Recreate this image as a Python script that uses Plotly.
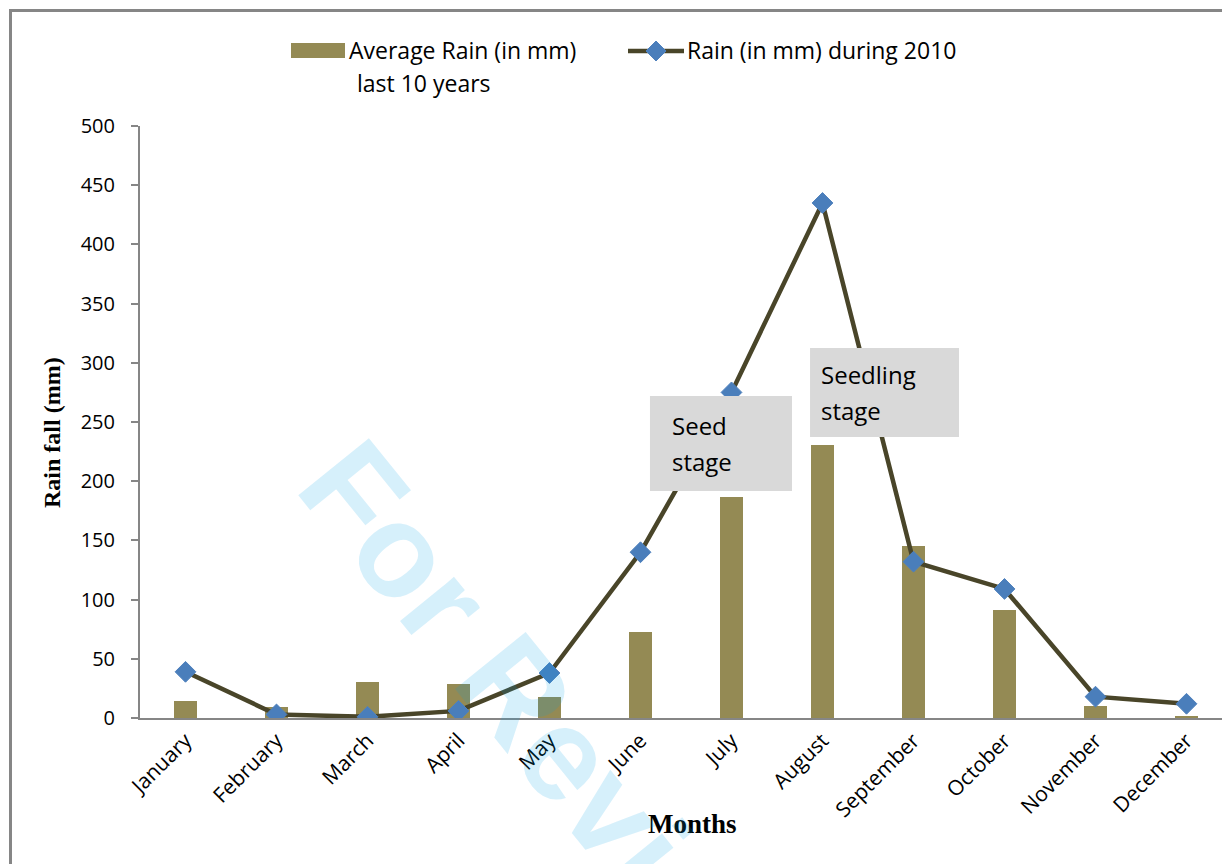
import plotly.graph_objects as go

# Monthly rainfall data (mm)
months = ["January", "February", "March", "April", "May", "June",
          "July", "August", "September", "October", "November", "December"]
avg_rain_10yr = [14, 9, 30, 29, 18, 73, 187, 231, 145, 91, 10, 2]
rain_2010 = [39, 3, 1, 6, 38, 140, 275, 435, 132, 109, 18, 12]

bar_name = "Average Rain (in mm) last 10 years"
line_name = "Rain (in mm) during 2010"

y_ticks = [0, 50, 100, 150, 200, 250, 300, 350, 400, 450, 500]

W, H = 1222, 864
L, R, T, B = 140, 0, 126, 146
PLOT_W = W - L - R
PLOT_H = H - T - B

BAR_COLOR = "#948A54"
LINE_COLOR = "#494529"
MARKER_COLOR = "#4A7EBB"
AXIS_COLOR = "#868686"
X_TICK_FONT = dict(family="Open Sans", size=21, color="#000000")
Y_TICK_FONT = dict(family="Open Sans", size=20, color="#000000")


def px_x(px):
    """Pixel column -> paper x."""
    return (px - L) / PLOT_W


def px_y(py):
    """Pixel row -> paper y."""
    return (H - B - py) / PLOT_H


fig = go.Figure()

fig.add_trace(go.Bar(
    x=months, y=avg_rain_10yr, name=bar_name, width=0.26,
    marker=dict(color=BAR_COLOR, line=dict(width=0)),
))
fig.add_trace(go.Scatter(
    x=months, y=rain_2010, name=line_name, mode="lines+markers",
    line=dict(color=LINE_COLOR, width=4.5),
    marker=dict(symbol="diamond", size=16, color=MARKER_COLOR,
                line=dict(color="#4F81BD", width=1)),
))

shapes = []
annotations = []

# Stage boxes (drawn above the series)
BOX_FONT = dict(family="Open Sans", size=24, color="#000000")
stage_boxes = [
    dict(x0=5.104, x1=6.665, y0=191.7, y1=272.0, lines=["Seed", "stage"], tx=5.32),
    dict(x0=6.863, x1=8.5, y0=237.3, y1=312.5, lines=["Seedling", "stage"], tx=6.96),
]
LINE_GAP = 36 / 1.184  # line spacing in data units
for b in stage_boxes:
    shapes.append(dict(type="rect", xref="x", yref="y", x0=b["x0"], x1=b["x1"],
                       y0=b["y0"], y1=b["y1"], fillcolor="#D9D9D9",
                       line=dict(width=0), layer="above"))
    mid = (b["y0"] + b["y1"]) / 2
    for k, txt in enumerate(b["lines"]):
        annotations.append(dict(xref="x", yref="y", x=b["tx"],
                                y=mid + LINE_GAP / 2 - k * LINE_GAP,
                                text=txt, showarrow=False, xanchor="left",
                                yanchor="middle", font=BOX_FONT))

# Outer chart border (top and left edges)
shapes.append(dict(type="path", xref="paper", yref="paper",
                   path=f"M {px_x(10.5)},{px_y(H + 5)} L {px_x(10.5)},{px_y(10.5)} L {px_x(W + 5)},{px_y(10.5)}",
                   line=dict(color=AXIS_COLOR, width=3), layer="above"))

LEGEND_FONT = dict(family="Open Sans", size=23, color="#000000")

# Legend: bar swatch
shapes.append(dict(type="rect", xref="paper", yref="paper",
                   x0=px_x(291), x1=px_x(345), y0=px_y(58), y1=px_y(43),
                   fillcolor=BAR_COLOR, line=dict(width=0)))
annotations.append(dict(xref="paper", yref="paper", x=px_x(347), y=px_y(50),
                        text="Average Rain (in mm)", showarrow=False,
                        xanchor="left", yanchor="middle", font=LEGEND_FONT))
annotations.append(dict(xref="paper", yref="paper", x=px_x(355), y=px_y(83),
                        text="last 10 years", showarrow=False,
                        xanchor="left", yanchor="middle", font=LEGEND_FONT))

# Legend: line with diamond
shapes.append(dict(type="line", xref="paper", yref="paper",
                   x0=px_x(628), x1=px_x(684), y0=px_y(51), y1=px_y(51),
                   line=dict(color=LINE_COLOR, width=4.5)))
shapes.append(dict(type="path", xref="paper", yref="paper",
                   xsizemode="pixel", ysizemode="pixel",
                   xanchor=px_x(656), yanchor=px_y(51),
                   path="M 0,-10 L 10,0 L 0,10 L -10,0 Z",
                   fillcolor=MARKER_COLOR, line=dict(color="#4F81BD", width=1)))
annotations.append(dict(xref="paper", yref="paper", x=px_x(685), y=px_y(50),
                        text=line_name, showarrow=False,
                        xanchor="left", yanchor="middle", font=LEGEND_FONT))

# Axis titles
annotations.append(dict(xref="paper", yref="paper", x=px_x(52), y=px_y(433),
                        text="<b>Rain fall (mm)</b>", showarrow=False, textangle=-90,
                        xanchor="center", yanchor="middle",
                        font=dict(family="Liberation Serif", size=24, color="#000000")))
annotations.append(dict(xref="paper", yref="paper", x=px_x(692), y=px_y(824),
                        text="<b>Months</b>", showarrow=False,
                        xanchor="center", yanchor="middle",
                        font=dict(family="Liberation Serif", size=27, color="#000000")))

# Review watermark
annotations.append(dict(xref="paper", yref="paper", x=px_x(550), y=px_y(733),
                        text="<b>For Review</b>", showarrow=False, textangle=51,
                        xanchor="center", yanchor="middle",
                        font=dict(family="Liberation Sans", size=132,
                                  color="rgba(0,162,232,0.16)")))

fig.update_layout(
    width=W, height=H, autosize=False,
    margin=dict(l=L, r=R, t=T, b=B, pad=0),
    paper_bgcolor="white", plot_bgcolor="white",
    showlegend=False, bargap=0,
    shapes=shapes, annotations=annotations,
    xaxis=dict(type="category", range=[-0.5, -0.5 + PLOT_W / 91.0],
               showline=True, linecolor=AXIS_COLOR, linewidth=2,
               ticks="", showgrid=False, zeroline=False,
               tickangle=-45, tickfont=X_TICK_FONT),
    yaxis=dict(range=[0, 500], tickvals=y_ticks, ticktext=[str(v) for v in y_ticks],
               showline=True, linecolor=AXIS_COLOR, linewidth=2,
               ticks="outside", ticklen=7, tickwidth=2, tickcolor=AXIS_COLOR,
               ticklabelstandoff=12,
               showgrid=False, zeroline=False, tickfont=Y_TICK_FONT),
)

fig.write_html("out.html")
